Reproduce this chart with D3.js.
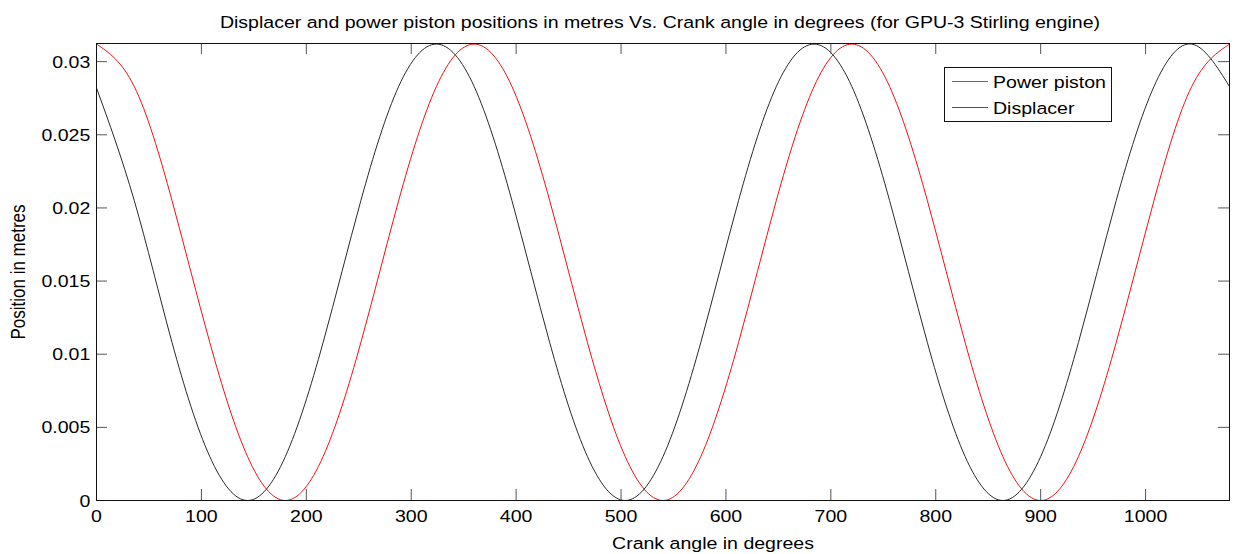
<!DOCTYPE html>
<html>
<head>
<meta charset="utf-8">
<script src="https://cdn.jsdelivr.net/npm/d3@7"></script>
<style>
    body { margin: 0; background: #fff; }
    svg { display: block; }
    text { font-family: "Liberation Sans", Arial, sans-serif; fill: #000; }
</style>
</head>
<body>
<svg id="chart" width="1236" height="554"></svg>
<script>
// crank angle samples (degrees)
const angles = [0, 36, 72, 108, 144, 180, 216, 252, 288, 324,
    360, 396, 432, 468, 504, 540, 576, 612, 648, 684,
    720, 756, 792, 828, 864, 900, 936, 972, 1008, 1044, 1080];

// positions (metres)
const powerPiston = [0.0282, 0.0205, 0.0108, 0.0030, 0.0000, 0.0030, 0.0108, 0.0205, 0.0283, 0.0312,
    0.0283, 0.0205, 0.0108, 0.0030, 0.0000, 0.0030, 0.0108, 0.0205, 0.0283, 0.0312,
    0.0283, 0.0205, 0.0108, 0.0030, 0.0000, 0.0030, 0.0108, 0.0205, 0.0283, 0.0312, 0.0283];
const displacer = [0.0312, 0.0283, 0.0205, 0.0108, 0.0030, 0.0000, 0.0030, 0.0108, 0.0205, 0.0283,
    0.0312, 0.0283, 0.0205, 0.0108, 0.0030, 0.0000, 0.0030, 0.0108, 0.0205, 0.0283,
    0.0312, 0.0283, 0.0205, 0.0108, 0.0030, 0.0000, 0.0030, 0.0108, 0.0205, 0.0283, 0.0312];

const xTicks = [0, 100, 200, 300, 400, 500, 600, 700, 800, 900, 1000];
const yTicks = [0, 0.005, 0.01, 0.015, 0.02, 0.025, 0.03];
const yTickLabels = ["0", "0.005", "0.01", "0.015", "0.02", "0.025", "0.03"];

const seriesNames = ["Power piston", "Displacer"];
const seriesColors = ["#2a2a2a", "#ee1111"];
const legendColors = ["#6a6a6a", "#ee1111"];

const titleText = "Displacer and power piston positions in metres Vs. Crank angle in degrees (for GPU-3 Stirling engine)";

const FONT = 17;
const STRETCH = 1.15;   // the picture is a bit wider than tall
const TICK = 11;

const svg = d3.select("#chart");

const plotLeft = 96, plotRight = 1229, plotTop = 43, plotBottom = 500;

const x = d3.scaleLinear().domain([0, 1080]).range([plotLeft, plotRight]);
const y = d3.scaleLinear().domain([0, 0.03124]).range([plotBottom, plotTop]);

svg.append("clipPath").attr("id", "plotClip")
    .append("rect")
    .attr("x", plotLeft).attr("y", plotTop - 1)
    .attr("width", plotRight - plotLeft + 1).attr("height", plotBottom - plotTop + 2);

// curves
const curve = d3.line()
    .x(d => x(d[0]) + 0.5)
    .y(d => y(d[1]) + 0.5)
    .curve(d3.curveNatural);

const series = [powerPiston, displacer];
series.forEach((vals, i) => {
    svg.append("path")
        .datum(angles.map((a, j) => [a, vals[j]]))
        .attr("clip-path", "url(#plotClip)")
        .attr("fill", "none")
        .attr("stroke", seriesColors[i])
        .attr("stroke-width", 1)
        .attr("d", curve);
});

// axes, ticks point inward
const xAxis = svg.append("g")
    .attr("transform", "translate(0," + plotBottom + ")")
    .call(d3.axisBottom(x).tickValues(xTicks).tickSize(-TICK).tickPadding(9.5)
        .tickFormat(d3.format("d")));
svg.append("g")
    .attr("transform", "translate(0," + plotTop + ")")
    .call(d3.axisTop(x).tickValues(xTicks).tickSize(-TICK).tickFormat(""));
const yAxis = svg.append("g")
    .attr("transform", "translate(" + plotLeft + ",0)")
    .call(d3.axisLeft(y).tickValues(yTicks).tickSize(-TICK).tickPadding(5)
        .tickFormat((d, i) => yTickLabels[i]));
svg.append("g")
    .attr("transform", "translate(" + plotRight + ",0)")
    .call(d3.axisRight(y).tickValues(yTicks).tickSize(-TICK).tickFormat(""));

svg.selectAll(".domain").remove();
svg.selectAll(".tick line").attr("stroke", "#555");
svg.selectAll(".tick text")
    .attr("font-size", FONT)
    .attr("font-family", '"Liberation Sans", Arial, sans-serif')
    .attr("fill", "#000");
xAxis.selectAll(".tick text")
    .attr("transform", "scale(" + STRETCH + ",1)");
yAxis.selectAll(".tick text")
    .attr("dy", "0.36em")
    .attr("transform", "scale(" + STRETCH + ",1)");

svg.append("rect")
    .attr("x", plotLeft + 0.5).attr("y", plotTop + 0.5)
    .attr("width", plotRight - plotLeft).attr("height", plotBottom - plotTop)
    .attr("fill", "none")
    .attr("stroke", "#111")
    .attr("stroke-width", 1);

// legend
const legend = svg.append("g").attr("transform", "translate(944.5,67.5)");
legend.append("rect")
    .attr("width", 167).attr("height", 54)
    .attr("fill", "#fff")
    .attr("stroke", "#111");
seriesNames.forEach((name, i) => {
    const ly = 14 + i * 26;
    legend.append("line")
        .attr("x1", 7.5).attr("x2", 43.5)
        .attr("y1", ly).attr("y2", ly)
        .attr("stroke", legendColors[i])
        .attr("stroke-width", 1);
    legend.append("text")
        .attr("transform", "translate(48.5," + (ly + 6.5) + ") scale(" + STRETCH + ",1)")
        .attr("font-size", FONT)
        .text(name);
});

// title and axis labels
svg.append("text")
    .attr("transform", "translate(660,28) scale(" + STRETCH + ",1)")
    .attr("text-anchor", "middle")
    .attr("font-size", FONT)
    .text(titleText);

svg.append("text")
    .attr("transform", "translate(713,549) scale(" + STRETCH + ",1)")
    .attr("text-anchor", "middle")
    .attr("font-size", FONT)
    .text("Crank angle in degrees");

svg.append("text")
    .attr("transform", "translate(25,272) rotate(-90) scale(1," + STRETCH + ")")
    .attr("text-anchor", "middle")
    .attr("font-size", FONT)
    .text("Position in metres");
</script>
</body>
</html>
